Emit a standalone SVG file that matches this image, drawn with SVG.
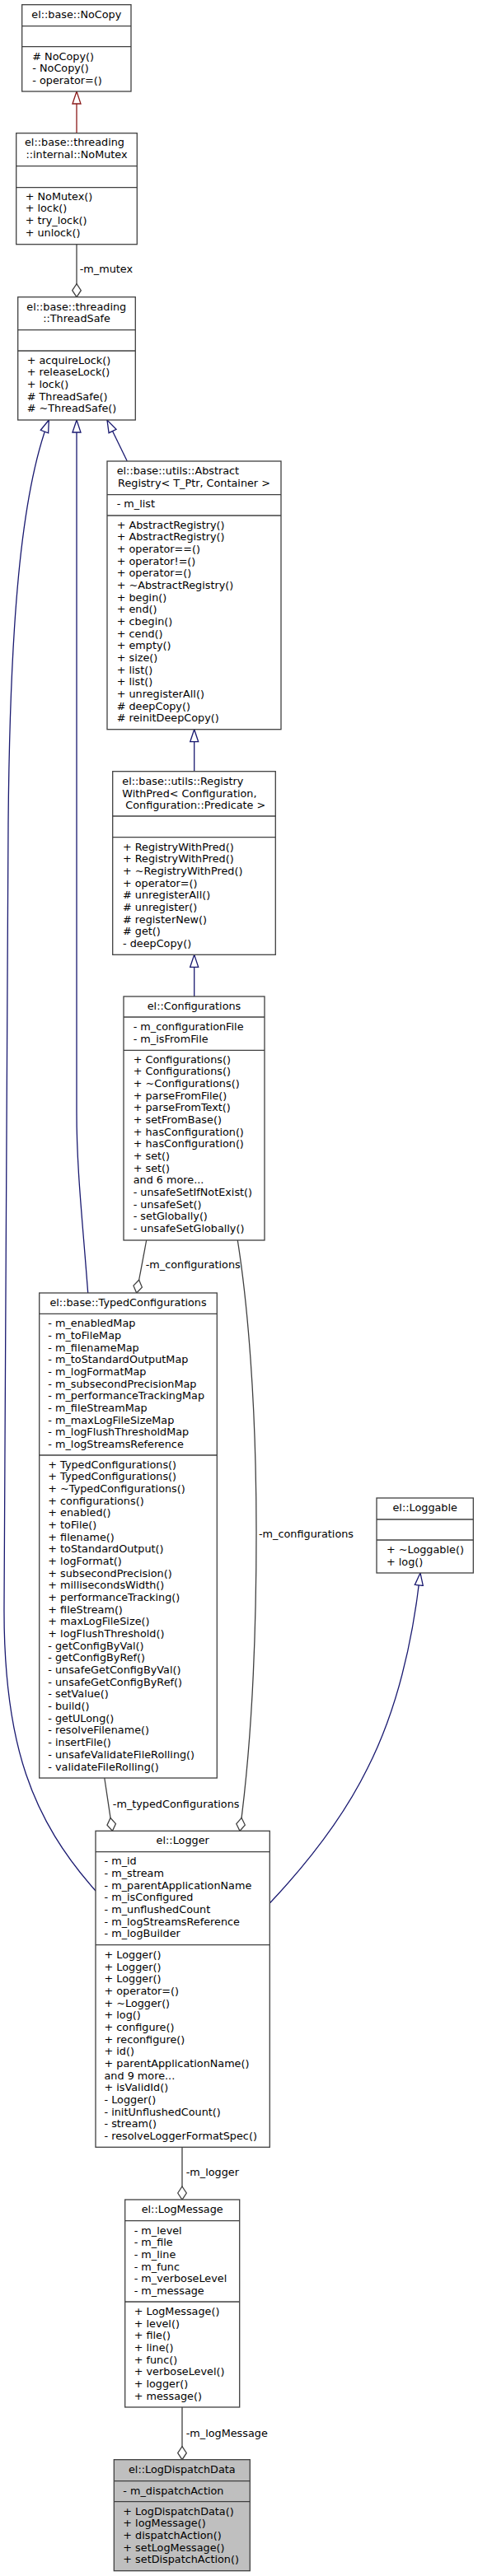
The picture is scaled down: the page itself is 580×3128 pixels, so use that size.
<svg xmlns="http://www.w3.org/2000/svg" width="580" height="3128" viewBox="0 0 580 3128">
<style>
text{font-family:"DejaVu Sans","Liberation Sans",sans-serif;font-size:12.8px;fill:#000}
.c{text-anchor:middle}
.box{fill:#fff;stroke:#404040;stroke-width:1.3}
.grey{fill:#bfbfbf;stroke:#404040;stroke-width:1.3}
.dv{stroke:#404040;stroke-width:1.3}
.e{fill:none;stroke-width:1.3}
.inh{stroke:#191970;marker-end:url(#triB)}
.prv{stroke:#8b1a1a;marker-end:url(#triR)}
.use{stroke:#404040;marker-end:url(#dia)}
</style>
<defs>
<marker id="triB" markerUnits="userSpaceOnUse" markerWidth="18" markerHeight="13" refX="16" refY="6.5" orient="auto"><path d="M1,1.5 L16,6.5 L1,11.5 Z" fill="#fff" stroke="#191970" stroke-width="1.3"/></marker>
<marker id="triR" markerUnits="userSpaceOnUse" markerWidth="18" markerHeight="13" refX="16" refY="6.5" orient="auto"><path d="M1,1.5 L16,6.5 L1,11.5 Z" fill="#fff" stroke="#8b1a1a" stroke-width="1.3"/></marker>
<marker id="dia" markerUnits="userSpaceOnUse" markerWidth="19" markerHeight="13" refX="17" refY="6.5" orient="auto"><path d="M1,6.5 L9,1.2 L17,6.5 L9,11.8 Z" fill="#fff" stroke="#404040" stroke-width="1.3"/></marker>
</defs>

<g id="connectors">
<path class="e prv" d="M93,161.7 L93,111"/>
<path class="e use" d="M93,296.7 L93,360.7"/>
<path class="e inh" d="M154.3,560 L130,510"/>
<path class="e inh" d="M106.7,1570 C100,1480 93,1420 93,1350 L93,510"/>
<path class="e inh" d="M116,2296 C40,2210 4,2120 5,1950 L10,1000 C12,760 25,600 59.3,510"/>
<path class="e inh" d="M235.7,936.7 L235.7,885.7"/>
<path class="e inh" d="M235.7,1210 L235.7,1159.3"/>
<path class="e use" d="M177.7,1506 L165.7,1570"/>
<path class="e use" d="M288.3,1506 C300,1580 311,1700 311,1860 C311,2000 305,2120 291,2223.3"/>
<path class="e use" d="M126.8,2159 L136.4,2223.3"/>
<path class="e inh" d="M327.3,2311 C380,2255 420,2200 446,2147 C480,2080 500,2000 510,1910"/>
<path class="e use" d="M221,2607.3 L221,2671"/>
<path class="e use" d="M221,2923 L221,2986.7"/>
<text x="96.7" y="331">-m_mutex</text>
<text x="176.7" y="1540">-m_configurations</text>
<text x="314" y="1866.7">-m_configurations</text>
<text x="136.8" y="2195">-m_typedConfigurations</text>
<text x="225.7" y="2641.7">-m_logger</text>
<text x="225.7" y="2958.7">-m_logMessage</text>
</g>

<g id="NoCopy">
<rect class="box" x="26.7" y="5.7" width="132.3" height="105.3"/>
<line class="dv" x1="26.7" y1="31.7" x2="159" y2="31.7"/>
<line class="dv" x1="26.7" y1="56.7" x2="159" y2="56.7"/>
<text class="c" x="92.8" y="21.7">el::base::NoCopy</text>
<text x="39.3" y="72.5"># NoCopy()</text>
<text x="39.3" y="87.2">- NoCopy()</text>
<text x="39.3" y="101.8">- operator=()</text>
</g>

<g id="NoMutex">
<rect class="box" x="19.7" y="161.7" width="146.6" height="135"/>
<line class="dv" x1="19.7" y1="201.7" x2="166.3" y2="201.7"/>
<line class="dv" x1="19.7" y1="227.7" x2="166.3" y2="227.7"/>
<text x="30" y="177.3">el::base::threading</text>
<text class="c" x="93" y="192">::internal::NoMutex</text>
<text x="30.7" y="242.5">+ NoMutex()</text>
<text x="30.7" y="257.2">+ lock()</text>
<text x="30.7" y="271.8">+ try_lock()</text>
<text x="30.7" y="286.5">+ unlock()</text>
</g>

<g id="ThreadSafe">
<rect class="box" x="21.7" y="360.7" width="142.6" height="149.3"/>
<line class="dv" x1="21.7" y1="400.7" x2="164.3" y2="400.7"/>
<line class="dv" x1="21.7" y1="426" x2="164.3" y2="426"/>
<text x="32.3" y="376.7">el::base::threading</text>
<text class="c" x="93" y="391.3">::ThreadSafe</text>
<text x="32.7" y="441.7">+ acquireLock()</text>
<text x="32.7" y="456.4">+ releaseLock()</text>
<text x="32.7" y="471">+ lock()</text>
<text x="32.7" y="485.7"># ThreadSafe()</text>
<text x="32.7" y="500.4"># ~ThreadSafe()</text>
</g>

<g id="AbstractRegistry">
<rect class="box" x="130" y="560" width="211" height="325.7"/>
<line class="dv" x1="130" y1="600.7" x2="341" y2="600.7"/>
<line class="dv" x1="130" y1="626" x2="341" y2="626"/>
<text x="141.7" y="576.3">el::base::utils::Abstract</text>
<text class="c" x="235.5" y="591">Registry&lt; T_Ptr, Container &gt;</text>
<text x="141.7" y="616.3">- m_list</text>
<text x="141.7" y="641.7">+ AbstractRegistry()</text>
<text x="141.7" y="656.4">+ AbstractRegistry()</text>
<text x="141.7" y="671">+ operator==()</text>
<text x="141.7" y="685.7">+ operator!=()</text>
<text x="141.7" y="700.4">+ operator=()</text>
<text x="141.7" y="715">+ ~AbstractRegistry()</text>
<text x="141.7" y="729.7">+ begin()</text>
<text x="141.7" y="744.4">+ end()</text>
<text x="141.7" y="759.1">+ cbegin()</text>
<text x="141.7" y="773.7">+ cend()</text>
<text x="141.7" y="788.4">+ empty()</text>
<text x="141.7" y="803.1">+ size()</text>
<text x="141.7" y="817.7">+ list()</text>
<text x="141.7" y="832.4">+ list()</text>
<text x="141.7" y="847.1">+ unregisterAll()</text>
<text x="141.7" y="861.7"># deepCopy()</text>
<text x="141.7" y="876.4"># reinitDeepCopy()</text>
</g>

<g id="RegistryWithPred">
<rect class="box" x="136.7" y="936.7" width="197.6" height="222.6"/>
<line class="dv" x1="136.7" y1="991" x2="334.3" y2="991"/>
<line class="dv" x1="136.7" y1="1016.7" x2="334.3" y2="1016.7"/>
<text x="148.3" y="953">el::base::utils::Registry</text>
<text x="148.3" y="967.7">WithPred&lt; Configuration,</text>
<text class="c" x="237.3" y="982.3">Configuration::Predicate &gt;</text>
<text x="149" y="1032.5">+ RegistryWithPred()</text>
<text x="149" y="1047.2">+ RegistryWithPred()</text>
<text x="149" y="1061.8">+ ~RegistryWithPred()</text>
<text x="149" y="1076.5">+ operator=()</text>
<text x="149" y="1091.2"># unregisterAll()</text>
<text x="149" y="1105.9"># unregister()</text>
<text x="149" y="1120.5"># registerNew()</text>
<text x="149" y="1135.2"># get()</text>
<text x="149" y="1149.9">- deepCopy()</text>
</g>

<g id="Configurations">
<rect class="box" x="150" y="1210" width="171" height="296"/>
<line class="dv" x1="150" y1="1235" x2="321" y2="1235"/>
<line class="dv" x1="150" y1="1275.3" x2="321" y2="1275.3"/>
<text class="c" x="235.5" y="1225.7">el::Configurations</text>
<text x="161.7" y="1251.3">- m_configurationFile</text>
<text x="161.7" y="1266">- m_isFromFile</text>
<text x="161.7" y="1290.7">+ Configurations()</text>
<text x="161.7" y="1305.4">+ Configurations()</text>
<text x="161.7" y="1320">+ ~Configurations()</text>
<text x="161.7" y="1334.7">+ parseFromFile()</text>
<text x="161.7" y="1349.4">+ parseFromText()</text>
<text x="161.7" y="1364">+ setFromBase()</text>
<text x="161.7" y="1378.7">+ hasConfiguration()</text>
<text x="161.7" y="1393.4">+ hasConfiguration()</text>
<text x="161.7" y="1408.1">+ set()</text>
<text x="161.7" y="1422.7">+ set()</text>
<text x="161.7" y="1437.4">and 6 more...</text>
<text x="161.7" y="1452.1">- unsafeSetIfNotExist()</text>
<text x="161.7" y="1466.7">- unsafeSet()</text>
<text x="161.7" y="1481.4">- setGlobally()</text>
<text x="161.7" y="1496.1">- unsafeSetGlobally()</text>
</g>

<g id="TypedConfigurations">
<rect class="box" x="47.7" y="1570" width="215.6" height="589"/>
<line class="dv" x1="47.7" y1="1595.3" x2="263.3" y2="1595.3"/>
<line class="dv" x1="47.7" y1="1767" x2="263.3" y2="1767"/>
<text class="c" x="155.5" y="1585.7">el::base::TypedConfigurations</text>
<text x="58.3" y="1611.3">- m_enabledMap</text>
<text x="58.3" y="1626">- m_toFileMap</text>
<text x="58.3" y="1640.6">- m_filenameMap</text>
<text x="58.3" y="1655.3">- m_toStandardOutputMap</text>
<text x="58.3" y="1670">- m_logFormatMap</text>
<text x="58.3" y="1684.7">- m_subsecondPrecisionMap</text>
<text x="58.3" y="1699.3">- m_performanceTrackingMap</text>
<text x="58.3" y="1714">- m_fileStreamMap</text>
<text x="58.3" y="1728.7">- m_maxLogFileSizeMap</text>
<text x="58.3" y="1743.3">- m_logFlushThresholdMap</text>
<text x="58.3" y="1758">- m_logStreamsReference</text>
<text x="58.3" y="1782.7">+ TypedConfigurations()</text>
<text x="58.3" y="1797.4">+ TypedConfigurations()</text>
<text x="58.3" y="1812">+ ~TypedConfigurations()</text>
<text x="58.3" y="1826.7">+ configurations()</text>
<text x="58.3" y="1841.4">+ enabled()</text>
<text x="58.3" y="1856.1">+ toFile()</text>
<text x="58.3" y="1870.7">+ filename()</text>
<text x="58.3" y="1885.4">+ toStandardOutput()</text>
<text x="58.3" y="1900.1">+ logFormat()</text>
<text x="58.3" y="1914.7">+ subsecondPrecision()</text>
<text x="58.3" y="1929.4">+ millisecondsWidth()</text>
<text x="58.3" y="1944.1">+ performanceTracking()</text>
<text x="58.3" y="1958.7">+ fileStream()</text>
<text x="58.3" y="1973.4">+ maxLogFileSize()</text>
<text x="58.3" y="1988.1">+ logFlushThreshold()</text>
<text x="58.3" y="2002.8">- getConfigByVal()</text>
<text x="58.3" y="2017.4">- getConfigByRef()</text>
<text x="58.3" y="2032.1">- unsafeGetConfigByVal()</text>
<text x="58.3" y="2046.8">- unsafeGetConfigByRef()</text>
<text x="58.3" y="2061.4">- setValue()</text>
<text x="58.3" y="2076.1">- build()</text>
<text x="58.3" y="2090.8">- getULong()</text>
<text x="58.3" y="2105.4">- resolveFilename()</text>
<text x="58.3" y="2120.1">- insertFile()</text>
<text x="58.3" y="2134.8">- unsafeValidateFileRolling()</text>
<text x="58.3" y="2149.5">- validateFileRolling()</text>
</g>

<g id="Loggable">
<rect class="box" x="457" y="1819" width="117.3" height="91"/>
<line class="dv" x1="457" y1="1845" x2="574.3" y2="1845"/>
<line class="dv" x1="457" y1="1870" x2="574.3" y2="1870"/>
<text class="c" x="515.7" y="1835">el::Loggable</text>
<text x="469" y="1886">+ ~Loggable()</text>
<text x="469" y="1900.7">+ log()</text>
</g>

<g id="Logger">
<rect class="box" x="116" y="2223.3" width="211.3" height="384"/>
<line class="dv" x1="116" y1="2248.7" x2="327.3" y2="2248.7"/>
<line class="dv" x1="116" y1="2361.7" x2="327.3" y2="2361.7"/>
<text class="c" x="221.7" y="2239">el::Logger</text>
<text x="126.5" y="2264.3">- m_id</text>
<text x="126.5" y="2279">- m_stream</text>
<text x="126.5" y="2293.6">- m_parentApplicationName</text>
<text x="126.5" y="2308.3">- m_isConfigured</text>
<text x="126.5" y="2323">- m_unflushedCount</text>
<text x="126.5" y="2337.7">- m_logStreamsReference</text>
<text x="126.5" y="2352.3">- m_logBuilder</text>
<text x="126.5" y="2377.8">+ Logger()</text>
<text x="126.5" y="2392.5">+ Logger()</text>
<text x="126.5" y="2407.1">+ Logger()</text>
<text x="126.5" y="2421.8">+ operator=()</text>
<text x="126.5" y="2436.5">+ ~Logger()</text>
<text x="126.5" y="2451.2">+ log()</text>
<text x="126.5" y="2465.8">+ configure()</text>
<text x="126.5" y="2480.5">+ reconfigure()</text>
<text x="126.5" y="2495.2">+ id()</text>
<text x="126.5" y="2509.8">+ parentApplicationName()</text>
<text x="126.5" y="2524.5">and 9 more...</text>
<text x="126.5" y="2539.2">+ isValidId()</text>
<text x="126.5" y="2553.8">- Logger()</text>
<text x="126.5" y="2568.5">- initUnflushedCount()</text>
<text x="126.5" y="2583.2">- stream()</text>
<text x="126.5" y="2597.9">- resolveLoggerFormatSpec()</text>
</g>

<g id="LogMessage">
<rect class="box" x="151.7" y="2671" width="139" height="252"/>
<line class="dv" x1="151.7" y1="2696.7" x2="290.7" y2="2696.7"/>
<line class="dv" x1="151.7" y1="2795" x2="290.7" y2="2795"/>
<text class="c" x="221.2" y="2686.7">el::LogMessage</text>
<text x="162.7" y="2712.5">- m_level</text>
<text x="162.7" y="2727.2">- m_file</text>
<text x="162.7" y="2741.8">- m_line</text>
<text x="162.7" y="2756.5">- m_func</text>
<text x="162.7" y="2771.2">- m_verboseLevel</text>
<text x="162.7" y="2785.9">- m_message</text>
<text x="162.7" y="2811">+ LogMessage()</text>
<text x="162.7" y="2825.7">+ level()</text>
<text x="162.7" y="2840.3">+ file()</text>
<text x="162.7" y="2855">+ line()</text>
<text x="162.7" y="2869.7">+ func()</text>
<text x="162.7" y="2884.4">+ verboseLevel()</text>
<text x="162.7" y="2899">+ logger()</text>
<text x="162.7" y="2913.7">+ message()</text>
</g>

<g id="LogDispatchData">
<rect class="grey" x="138.3" y="2986.7" width="165" height="135"/>
<line class="dv" x1="138.3" y1="3012.7" x2="303.3" y2="3012.7"/>
<line class="dv" x1="138.3" y1="3037.7" x2="303.3" y2="3037.7"/>
<text class="c" x="220.8" y="3002.7">el::LogDispatchData</text>
<text x="149.3" y="3028.5">- m_dispatchAction</text>
<text x="149.3" y="3053.7">+ LogDispatchData()</text>
<text x="149.3" y="3068.4">+ logMessage()</text>
<text x="149.3" y="3083">+ dispatchAction()</text>
<text x="149.3" y="3097.7">+ setLogMessage()</text>
<text x="149.3" y="3112.4">+ setDispatchAction()</text>
</g>
</svg>
